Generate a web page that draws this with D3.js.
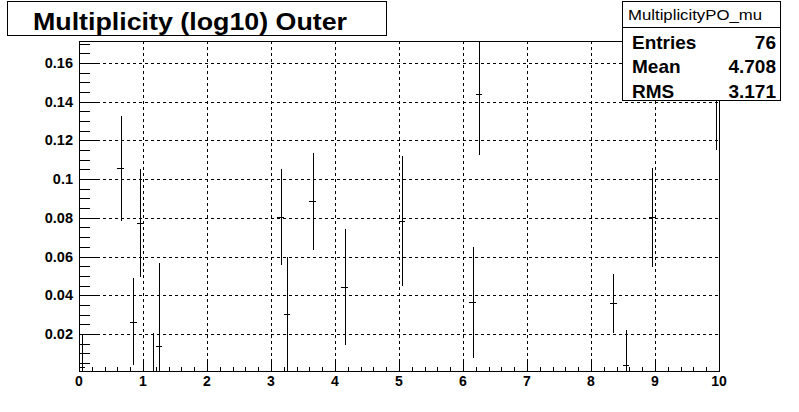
<!DOCTYPE html>
<html>
<head>
<meta charset="utf-8">
<title>Multiplicity (log10) Outer</title>
<script src="https://cdn.jsdelivr.net/npm/d3@7"></script>
<style>
  html, body { margin: 0; padding: 0; background: #fff; }
  svg { display: block; font-family: "Liberation Sans", Arial, Helvetica, sans-serif; }
</style>
</head>
<body>
<svg id="chart" width="799" height="412"></svg>
<script>
// bin centres (bin width 0.1), contents and errors
var binCenters = [0.05, 0.65, 0.85, 0.95, 1.15, 1.25, 3.15, 3.25, 3.65, 4.15, 5.05, 6.15, 6.25, 8.35, 8.55, 8.95, 9.95];
var binValues  = [0.003, 0.1056, 0.0262, 0.0772, 0.0, 0.0136, 0.0806, 0.0303, 0.0886, 0.0443, 0.0784, 0.0364, 0.144, 0.0359, 0.0038, 0.0803, 0.15];
var binErrors  = [0.017, 0.0272, 0.0225, 0.0278, 0.0204, 0.043, 0.0248, 0.0293, 0.0251, 0.0299, 0.0336, 0.0286, 0.0314, 0.0152, 0.0183, 0.0256, 0.035];
var binWidth = 0.1;

var xTicks = [0, 1, 2, 3, 4, 5, 6, 7, 8, 9, 10];
var yTicks = [0.02, 0.04, 0.06, 0.08, 0.1, 0.12, 0.14, 0.16];
var yTickLabels = ["0.02", "0.04", "0.06", "0.08", "0.1", "0.12", "0.14", "0.16"];

var titleText = "Multiplicity (log10) Outer";
var statsName = "MultiplicityPO_mu";
var statsLabels = ["Entries", "Mean", "RMS"];
var statsValues = ["76", "4.708", "3.171"];

// frame edges in pixels
var fLeft = 79, fRight = 719, fTop = 41, fBottom = 371;

var x = d3.scaleLinear().domain([0, 10]).range([fLeft, fRight]);
var y = d3.scaleLinear().domain([0.00083, 0.17137]).range([fBottom, fTop]);

var svg = d3.select("#chart");

// clip region for the data
svg.append("clipPath").attr("id", "frameclip")
  .append("rect").attr("x", fLeft).attr("y", fTop)
  .attr("width", fRight - fLeft).attr("height", fBottom - fTop);

// grid
var grid = svg.append("g").attr("stroke", "#000").attr("stroke-width", 1)
  .attr("stroke-dasharray", "3,3").attr("shape-rendering", "crispEdges");
grid.selectAll(".gx").data(xTicks.slice(1, -1)).enter().append("line")
  .attr("x1", function(d) { return Math.round(x(d)) + 0.5; })
  .attr("x2", function(d) { return Math.round(x(d)) + 0.5; })
  .attr("y1", fTop).attr("y2", fBottom);
grid.selectAll(".gy").data(yTicks).enter().append("line")
  .attr("y1", function(d) { return Math.round(y(d)) + 0.5; })
  .attr("y2", function(d) { return Math.round(y(d)) + 0.5; })
  .attr("x1", fLeft).attr("x2", fRight);

// error bars
var bars = svg.append("g").attr("clip-path", "url(#frameclip)")
  .attr("stroke", "#000").attr("stroke-width", 1).attr("shape-rendering", "crispEdges");
binCenters.forEach(function(c, i) {
  var px = Math.round(x(c)) + 0.5;
  bars.append("line").attr("x1", px).attr("x2", px)
    .attr("y1", y(binValues[i] - binErrors[i])).attr("y2", y(binValues[i] + binErrors[i]));
  var py = Math.round(y(binValues[i])) + 0.5;
  bars.append("line").attr("y1", py).attr("y2", py)
    .attr("x1", x(c - binWidth / 2)).attr("x2", x(c + binWidth / 2));
});

// frame
svg.append("rect").attr("x", fLeft + 0.5).attr("y", fTop + 0.5)
  .attr("width", fRight - fLeft).attr("height", fBottom - fTop)
  .attr("fill", "none").attr("stroke", "#000").attr("stroke-width", 1)
  .attr("shape-rendering", "crispEdges");

// x axis ticks (drawn upward, 5 subdivisions)
var xAxis = d3.axisBottom(x).tickValues(d3.range(0, 10.001, 0.2))
  .tickSize(-5).tickFormat("");
var gx = svg.append("g").attr("transform", "translate(0," + (fBottom + 0.5) + ")").call(xAxis);
gx.select(".domain").remove();
gx.selectAll(".tick line").attr("stroke", "#000").attr("shape-rendering", "crispEdges")
  .attr("y2", function(d) { return Math.abs(d - Math.round(d)) < 1e-6 ? -10 : -5; });
svg.append("g").selectAll("text").data(xTicks).enter().append("text")
  .attr("x", function(d) { return x(d); }).attr("y", 386)
  .attr("text-anchor", "middle").attr("font-size", 14).attr("font-weight", "bold")
  .text(function(d) { return d; });

// y axis ticks (drawn to the right, 4 subdivisions)
var yAxis = d3.axisLeft(y).tickValues(d3.range(0.005, 0.1701, 0.005))
  .tickSize(-10).tickFormat("");
var gy = svg.append("g").attr("transform", "translate(" + (fLeft + 0.5) + ",0)").call(yAxis);
gy.select(".domain").remove();
gy.selectAll(".tick line").attr("stroke", "#000").attr("shape-rendering", "crispEdges")
  .attr("x2", function(d) { var k = d / 0.02; return Math.abs(k - Math.round(k)) < 1e-6 ? 20 : 10; });
svg.append("g").selectAll("text").data(yTicks).enter().append("text")
  .attr("x", 73).attr("y", function(d) { return y(d) + 5; })
  .attr("text-anchor", "end").attr("font-size", 14.5).attr("font-weight", "bold")
  .text(function(d, i) { return yTickLabels[i]; });

// title box
svg.append("rect").attr("x", 7.5).attr("y", 1.5).attr("width", 379).attr("height", 34)
  .attr("fill", "#fff").attr("stroke", "#000").attr("shape-rendering", "crispEdges");
svg.append("text").attr("x", 33).attr("y", 29.5)
  .attr("font-size", 23).attr("font-weight", "bold")
  .attr("textLength", 314).attr("lengthAdjust", "spacingAndGlyphs").text(titleText);

// stats box
var sb = svg.append("g");
sb.append("rect").attr("x", 622.5).attr("y", 1.5).attr("width", 158).attr("height", 99)
  .attr("fill", "#fff").attr("stroke", "#000").attr("shape-rendering", "crispEdges");
sb.append("line").attr("x1", 622.5).attr("x2", 780.5).attr("y1", 27.5).attr("y2", 27.5)
  .attr("stroke", "#000").attr("shape-rendering", "crispEdges");
sb.append("text").attr("x", 628).attr("y", 20)
  .attr("font-size", 15).attr("textLength", 134).attr("lengthAdjust", "spacingAndGlyphs")
  .text(statsName);
statsLabels.forEach(function(lab, i) {
  var by = 48.5 + i * 24.5;
  sb.append("text").attr("x", 632).attr("y", by).attr("font-size", 19)
    .attr("font-weight", "bold").text(lab);
  sb.append("text").attr("x", 776).attr("y", by).attr("font-size", 19)
    .attr("font-weight", "bold").attr("text-anchor", "end").text(statsValues[i]);
});
</script>
</body>
</html>
